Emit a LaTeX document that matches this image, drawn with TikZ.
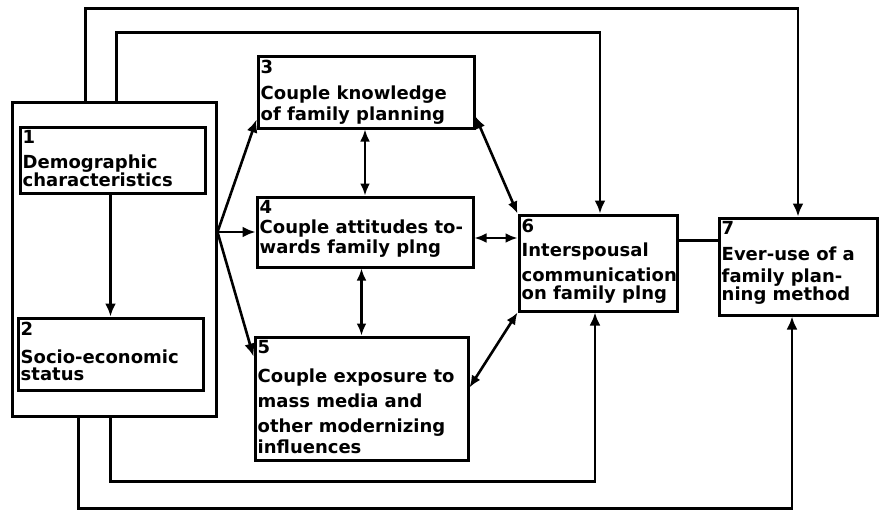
\documentclass[tikz,border=0pt]{standalone}
\usepackage{fontspec}
\setmainfont{DejaVu Sans}
\usetikzlibrary{arrows.meta,calc}
\begin{document}
\begin{tikzpicture}[x=1pt,y=-1pt,
  boxst/.style={draw=black,line width=3pt,rectangle,inner sep=0pt},
  lbl/.style={anchor=north west,align=left,inner xsep=4pt,inner ysep=5pt,
    font=\bfseries\fontsize{18}{18}\selectfont},
  conn/.style={line width=2.6pt,draw=black},
  arr/.style={conn,-{Latex[length=13pt,width=11pt]}},
  darr/.style={conn,{Latex[length=12pt,width=10pt]}-{Latex[length=12pt,width=10pt]}}]
\useasboundingbox (0,0) rectangle (881,520);
% group box
\node[boxst,minimum width=204pt,minimum height=314pt] (G) at (114,259) {};
% boxes
\node[boxst,minimum width=185pt,minimum height=66pt] (B1) at (112.5,160) {};
\node[boxst,minimum width=185pt,minimum height=72pt] (B2) at (110.5,354) {};
\node[boxst,minimum width=216pt,minimum height=72pt] (B3) at (366,92) {};
\node[boxst,minimum width=216pt,minimum height=70pt] (B4) at (365,232) {};
\node[boxst,minimum width=213pt,minimum height=123pt] (B5) at (361.5,398.5) {};
\node[boxst,minimum width=158pt,minimum height=96pt] (B6) at (598,263) {};
\node[boxst,minimum width=158pt,minimum height=97pt] (B7) at (798,266.5) {};
% texts
\node[lbl] (T1) at (B1.north west) {1\\[7pt]Demographic\\characteristics};
\node[lbl] (T2) at (B2.north west) {2\\[10pt]Socio-economic\\[-1pt]status};
\node[lbl] (T3) at (B3.north west) {3\\[8pt]Couple knowledge\\[3pt]of family planning};
\node[lbl] (T4) at (B4.north west) {4\\[2pt]Couple attitudes to-\\[2pt]wards family plng};
\node[lbl] (T5) at (B5.north west) {5\\[11pt]Couple exposure to\\[7pt]mass media and\\[7pt]other modernizing\\[3pt]influences};
\node[lbl] (T6) at (B6.north west) {6\\[6pt]Interspousal\\[7pt]communication\\on family plng};
\node[lbl] (T7) at (B7.north west) {7\\[8pt]Ever-use of a\\[4pt]family plan-\\ning method};
% connectors
\coordinate (fan) at (G.east |- B4.west);
\coordinate (a46) at ($(B4.east)+(0,6)$);
\coordinate (a67) at ($(B6.north east)+(0,27)$);
\draw[arr] (B1.south -| B2.north) -- (B2.north);
\draw[arr] (fan) -- ($(B3.south west)+(0,-10)$);
\draw[arr] (fan) -- (B4.west);
\draw[arr] (fan) -- ($(B5.north west)+(0,21)$);
\draw[darr] (B3.south -| B4.north) -- (B4.north);
\draw[darr] (B4.south -| B5.north) -- (B5.north);
\draw[darr] ($(B3.south east)+(0,-13)$) -- (B6.north west);
\draw[darr] (a46) -- (a46 -| B6.west);
\draw[darr] ($(B5.east)+(0,-11)$) -- (B6.south west);
\draw[conn] (a67) -- (a67 -| B7.west);
% feedback lines
\draw[arr] ($(G.north west)+(75,0)$) -- ++(0,-92) -| (B7.north);
\draw[arr] ($(G.north west)+(106,0)$) -- ++(0,-68) -| ($(B6.north)+(2,0)$);
\draw[arr] ($(G.south west)+(100,0)$) -- ++(0,64) -| ($(B6.south)+(-3,0)$);
\draw[arr] ($(G.south west)+(68,0)$) -- ++(0,91) -| ($(B7.south)+(-6,0)$);
\end{tikzpicture}
\end{document}
